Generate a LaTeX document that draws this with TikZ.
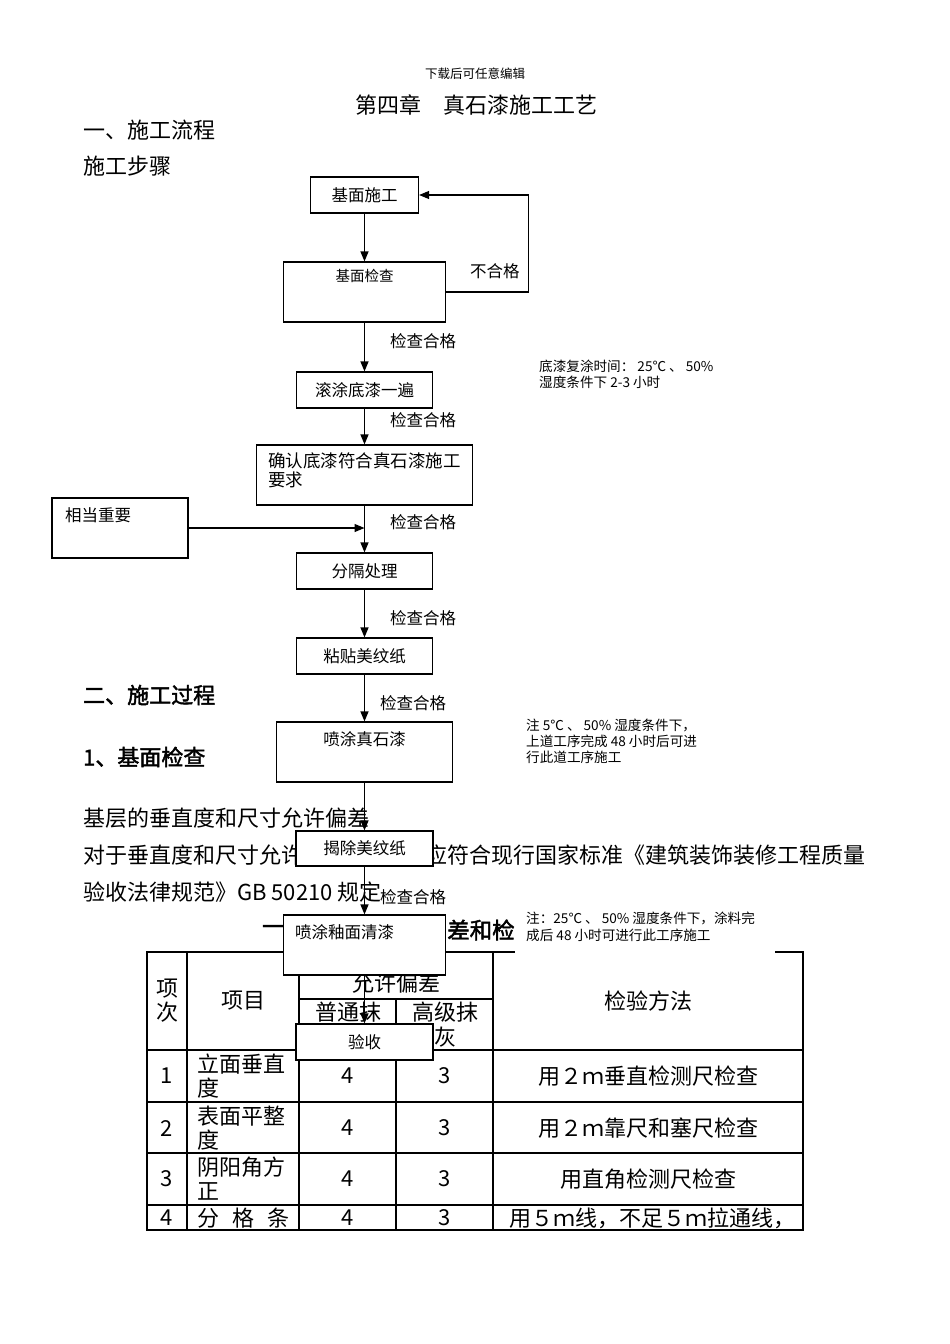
\documentclass[tikz,border=0pt]{standalone}
\usepackage{fontspec}
\setmainfont{Liberation Serif}
\newfontfamily\cjk[AutoFakeBold=2]{Noto Sans CJK SC}
\usetikzlibrary{arrows.meta,positioning,calc}
\newcommand{\pxsize}[2]{\fontsize{#1}{#2}\selectfont}

\tikzset{
  stepbox/.style={draw,line width=1.2pt,fill=white,inner sep=0pt,font=\cjk\pxsize{16.5}{18}},
  flow/.style={line width=1.2pt,-{Triangle[width=8pt,length=10pt]}},
  lbl/.style={inner sep=0pt,anchor=west,font=\cjk\pxsize{16.5}{18}},
  note/.style={inner sep=0pt,anchor=north west,align=left,font=\cjk\pxsize{13.6}{16}},
  body/.style={inner sep=0pt,anchor=west,font=\cjk\pxsize{22}{26}},
  head/.style={body,font=\cjk\bfseries\pxsize{22}{26}},
  cell/.style={inner sep=0pt,font=\cjk\pxsize{22}{24}},
  grid/.style={line width=1.6pt},
}

\begin{document}
\begin{tikzpicture}[x=1pt,y=-1pt]
\useasboundingbox (0,0) rectangle (950,1344);

% page text
\node[inner sep=0pt,font=\cjk\pxsize{12.5}{14}] (pagehead) at (475,74) {下载后可任意编辑};
\node[body] (chap) at (355,105) {第四章　真石漆施工工艺};
\node[body] (sec1) at (83,130) {一、施工流程};
\node[body] (steps) at (83,166) {施工步骤};
\node[head] (sec2) at (83,695) {二、施工过程};
\node[head] (sub1) at (83,757) {1、基面检查};
\node[body] (par1) at (83,818) {基层的垂直度和尺寸允许偏差};
\node[body] (par2a) at (83,855) {对于垂直度和尺寸允许};
\node[body,anchor=east] (par2b) at (866,855) {应符合现行国家标准《建筑装饰装修工程质量};
\node[body] (par3) at (83,892) {验收法律规范》GB 50210 规定};
\node[head,font=\cjk\bfseries\pxsize{22.5}{26}] (tabcapa) at (262,930) {一};
\node[head,font=\cjk\bfseries\pxsize{22.5}{26}] (tabcapb) at (447,930) {差和检验};

% table
\draw[line width=2pt] (147,952) rectangle (803,1230);
\foreach \cx in {187,299,493}
  \draw[grid] (\cx,952) -- (\cx,1230);
\draw[grid] (396,999) -- (396,1230);
\draw[grid] (299,999) -- (493,999);
\foreach \ry in {1050,1102,1153,1205}
  \draw[grid] (147,\ry) -- (803,\ry);

\node[cell,align=center] (hno) at (167,1001) {项\\次};
\node[cell] (hitem) at (243,1001) {项目};
\node[cell] (htol) at (396,983) {允许偏差};
\node[cell] (hnorm) at (348,1012) {普通抹};
\node[cell,align=center,font=\cjk\pxsize{22}{25}] (hhigh) at (445,1025) {高级抹\\灰};
\node[cell] (hmeth) at (648,1001) {检验方法};

\foreach \n/\ry/\itemA/\itemB/\meth in {1/1050/立面垂直/度/用２ｍ垂直检测尺检查,
    2/1102/表面平整/度/用２ｍ靠尺和塞尺检查, 3/1153/阴阳角方/正/用直角检测尺检查}{
  \node[cell] (no\n) at (167,\ry+26) {\n};
  \node[cell,anchor=north west,align=left] (item\n) at (197,\ry+4) {\itemA\\\itemB};
  \node[cell] (norm\n) at (348,\ry+26) {4};
  \node[cell] (high\n) at (445,\ry+26) {3};
  \node[cell] (meth\n) at (648,\ry+26) {\meth};
}
\node[cell] (no4) at (167,1218) {4};
\node[cell,anchor=west] (item4) at (197,1218) {分\hspace{13pt}格\hspace{13pt}条};
\node[cell] (norm4) at (348,1218) {4};
\node[cell] (high4) at (445,1218) {3};
\node[cell] (meth4) at (652,1218) {用５ｍ线，不足５ｍ拉通线，};

% flow chart
\node[stepbox,minimum width=108pt,minimum height=36pt] (base) at (364.5,195) {基面施工};
\node[stepbox,minimum width=162pt,minimum height=60pt] (check) at (364.5,292) {};
\node[lbl,anchor=center,font=\cjk\pxsize{14.5}{16}] (checktxt) at ($(check.north)+(0,15)$) {基面检查};
\node[stepbox,minimum width=136pt,minimum height=36pt] (roll) at (364.5,390) {滚涂底漆一遍};
\node[stepbox,minimum width=216pt,minimum height=60pt] (confirm) at (364.5,475) {};
\node[lbl,anchor=north west,align=left,font=\cjk\pxsize{17.5}{19}] (confirmtxt) at (268,453) {确认底漆符合真石漆施工\\要求};
\node[stepbox,minimum width=136pt,minimum height=60pt] (key) at (120,528) {};
\node[lbl] (keytxt) at (65,515) {相当重要};
\node[stepbox,minimum width=136pt,minimum height=36pt] (split) at (364.5,571) {分隔处理};
\node[stepbox,minimum width=136pt,minimum height=36pt] (tape) at (364.5,656) {粘贴美纹纸};
\node[stepbox,minimum width=176pt,minimum height=60pt] (spray) at (364.5,752) {};
\node[lbl,anchor=center] (spraytxt) at ($(spray.north)+(0,18)$) {喷涂真石漆};
\node[stepbox,minimum width=137pt,minimum height=35pt] (peel) at (364.5,848.5) {揭除美纹纸};
\node[stepbox,minimum width=162pt,minimum height=60pt] (glaze) at (364.5,945) {};
\node[lbl] (glazetxt) at (295,932) {喷涂釉面清漆};
\node[stepbox,minimum width=137pt,minimum height=36pt] (accept) at (364.5,1042) {验收};

\foreach \a/\b in {base/check,check/roll,roll/confirm,confirm/split,split/tape,
    tape/spray,spray/peel,peel/glaze,glaze/accept}
  \draw[flow] (\a) -- (\b);
\draw[flow] (check.east) -- ++(82,0) |- (base.east);
\coordinate (keyhit) at (confirm.south |- key.east);
\draw[flow] (key.east) -- (keyhit);

% labels
\node[lbl] (fail) at (470,271) {不合格};
\node[lbl] (ok1) at (390,341) {检查合格};
\node[lbl] (ok2) at (390,420) {检查合格};
\node[lbl] (ok3) at (390,522) {检查合格};
\node[lbl] (ok4) at (390,618) {检查合格};
\node[lbl] (ok5) at (380,703) {检查合格};
\node[lbl] (ok6) at (380,897) {检查合格};

% notes
\node[note] (primernote) at (539,360) {底漆复涂时间： 25℃ 、 50\%\\湿度条件下 2-3 小时};
\node[note] (spraynote) at (526,719) {注 5℃ 、 50\% 湿度条件下，\\上道工序完成 48 小时后可进\\行此道工序施工};
\node[fill=white,inner sep=0pt,minimum width=260pt,minimum height=51pt] (glazebg) at (645,930.5) {};
\node[note,font=\cjk\pxsize{13.6}{17}] (glazenote) at (526,912) {注：25℃ 、 50\% 湿度条件下，涂料完\\成后 48 小时可进行此工序施工};
\end{tikzpicture}
\end{document}
